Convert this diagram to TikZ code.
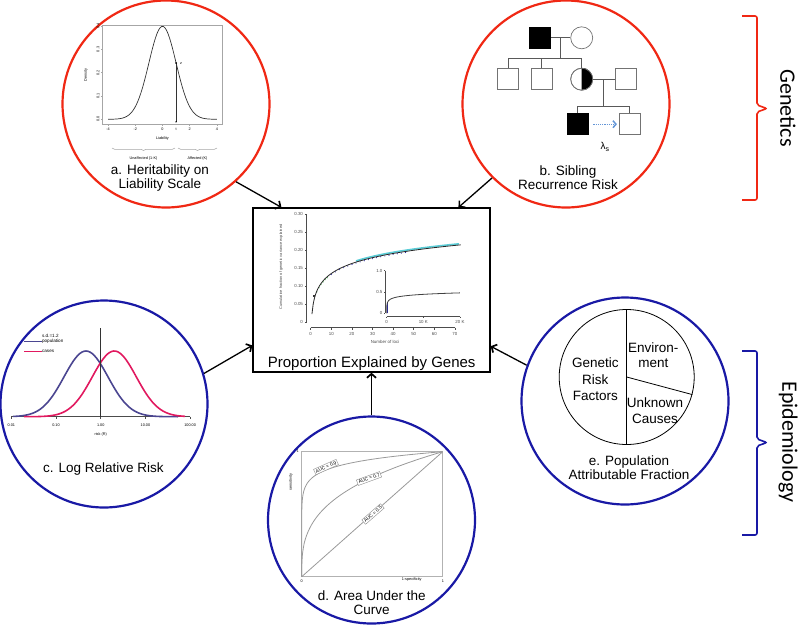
\documentclass[tikz,border=0pt]{standalone}
\usepackage{fontspec}
\setmainfont{Liberation Sans}
\newfontfamily\sidefont{Carlito}
\usetikzlibrary{positioning,arrows.meta,calc,decorations.pathreplacing}
\definecolor{genred}{RGB}{240,40,20}
\definecolor{epiblue}{RGB}{25,25,165}
\definecolor{popblue}{RGB}{75,70,145}
\definecolor{casered}{RGB}{225,25,95}
\definecolor{siblue}{RGB}{100,150,215}
\definecolor{fitcyan}{RGB}{90,205,215}
\definecolor{dotblue}{RGB}{40,40,160}
\definecolor{dotgreen}{RGB}{70,175,80}
\tikzset{
topic/.style={
  circle,
  draw=#1,
  line width=2.2pt,
  minimum size=207pt,
  inner sep=0pt
  },
capt/.style={
  font=\fontsize{13.5}{14}\selectfont,
  align=center,
  inner sep=0pt
  },
pielbl/.style={
  capt,
  font=\fontsize{13.5}{16.5}\selectfont
  },
tinylbl/.style={
  font=\fontsize{3.8}{4.2}\selectfont,
  inner sep=0.4pt
  },
ticklbl/.style={
  font=\fontsize{4.4}{5}\selectfont,
  text=black!70,
  inner sep=0.4pt
  },
plotframe/.style={draw=black!35,line width=0.5pt},
feed/.style={
  line width=1.3pt,
  -{Straight Barb[length=4pt,width=9pt,line width=1.7pt]}
  },
sqopen/.style={
  draw=black!55,
  line width=0.7pt,
  minimum size=21pt,
  inner sep=0pt
  },
sqfull/.style={sqopen,draw=black,fill=black},
circopen/.style={sqopen,circle,minimum size=22pt},
rocbox/.style={font=\fontsize{4.8}{5}\selectfont,draw=black!45,fill=white,inner sep=1.2pt},
pedline/.style={draw=black!65,line width=0.7pt}
}

\begin{document}
\begin{tikzpicture}[x=1pt,y=-1pt,>=latex]
\useasboundingbox (0,0) rectangle (800,625);

\node[topic=genred] (circa) at (166,104) {};
\node[topic=genred] (circb) at (566,104) {};
\node[topic=epiblue] (circc) at (104,404) {};
\node[topic=epiblue] (circd) at (371.5,520) {};
\node[topic=epiblue] (circe) at (625,401) {};

\node[draw,line width=1.3pt,minimum width=237pt,minimum height=164pt,inner sep=0pt] (main) at (371.5,290) {};

% a. liability scale
\draw[plotframe] (102.7,25) rectangle (222.7,124);
\foreach \v/\l in {0/0.0,1/0.1,2/0.2,3/0.3,4/0.4}{
  \draw[plotframe] (102.7,{119.3-23.3*\v}) -- ++(-2,0);
  \node[tinylbl,rotate=90] at (98,{119.3-23.3*\v}) {\l};
}
\foreach \t in {-4,-2,0,2,4}{
  \draw[plotframe] ({162.5+13.6*\t},124) -- ++(0,2);
  \node[tinylbl] at ({162.5+13.6*\t},129.5) {\t};
}
\node[tinylbl,rotate=90] (dens) at (86,75) {Density};
\node[tinylbl] (liab) at (162.5,138.5) {Liability};
\draw[black!80,line width=0.7pt] plot[domain=-4:4,samples=70] ({162.5+13.6*\x},{119.3-93*exp(-0.5*(\x)*(\x))});
\coordinate (thtop) at (176.1,62.9);
\coordinate (thbot) at (176.1,121.8);
\draw[black!80,line width=0.6pt] (thbot) -- (thtop);
\fill (thtop) circle[radius=1pt];
\fill (thbot) circle[radius=0.8pt];
\node[tinylbl] (zlbl) at (181,63) {z};
\node[tinylbl] (tlbl) at (176.1,129.5) {t};
\draw[plotframe,decorate,decoration={brace,mirror,amplitude=2.5pt}] (112,148) -- (175,148);
\draw[plotframe,decorate,decoration={brace,mirror,amplitude=2.5pt}] (178,148) -- (217,148);
\node[tinylbl] (unaff) at (143.5,158.5) {Unaffected (1-K)};
\node[tinylbl] (aff) at (197.5,158.5) {Affected (K)};
\node[capt] (capa) at (160,178.5) {a. Heritability on\\Liability Scale};

% b. pedigree
\node[sqfull] (dad) at (540,37.8) {};
\node[circopen] (mum) at (581.7,37.8) {};
\draw[pedline] (dad.east) -- (mum.west);
\coordinate (mar1) at (560.8,37.8);
\coordinate (sib1top) at (508.3,58);
\coordinate (sib2top) at (541.8,58);
\coordinate (mom2top) at (581.7,58);
\node[sqopen] (sib1) at (508.3,79.2) {};
\node[sqopen] (sib2) at (541.8,79.2) {};
\node[circopen] (mom2) at (581.7,79.2) {};
\fill (mom2.north) arc[start angle=90,end angle=-90,radius=11pt];
\node[circopen] at (mom2) {};
\node[sqopen] (spouse) at (626.2,79.2) {};
\draw[pedline] (mar1) -- (mar1|-sib1top);
\draw[pedline] (sib1top) -- (mom2top);
\draw[pedline] (sib1top) -- (sib1.north);
\draw[pedline] (sib2top) -- (sib2.north);
\draw[pedline] (mom2top) -- (mom2.north);
\draw[pedline] (mom2.east) -- (spouse.west);
\coordinate (mar2) at (603.5,79.2);
\coordinate (probtop) at (577.5,106);
\coordinate (sibrtop) at (629.8,106);
\node[sqfull] (prob) at (577.5,124.2) {};
\node[sqopen] (sibr) at (629.8,124.2) {};
\draw[pedline] (mar2) -- (mar2|-probtop);
\draw[pedline] (probtop) -- (sibrtop);
\draw[pedline] (probtop) -- (prob.north);
\draw[pedline] (sibrtop) -- (sibr.north);
\draw[siblue,line width=1.2pt,densely dotted,shorten <=5pt,shorten >=2pt,
  -{Straight Barb[length=3pt,width=7pt,line width=1.5pt]}] (prob) -- (sibr);
\node[font=\fontsize{10}{12}\selectfont,inner sep=0pt] (lam) at (605,147) {λ\textsubscript{s}};
\node[capt] (capb) at (568,177.5) {b. Sibling\\Recurrence Risk};

% c. log relative risk
\draw[black!70,line width=0.6pt] (11.3,416.7) -- (190.1,416.7);
\foreach \k/\l in {-2/0.01,-1/0.10,0/1.00,1/10.00,2/100.00}{
  \draw[black!70,line width=0.5pt] ({100.7+44.7*\k},416.7) -- ++(0,2);
  \node[tinylbl] at ({100.7+44.7*\k},425) {\l};
}
\node[tinylbl] (risk) at (100.7,434.3) {risk (R)};
\draw[popblue,line width=1.6pt] plot[domain=13:178,samples=80] (\x,{416.7-65.7*exp(-0.5*((\x-86)/22)^2)});
\draw[casered,line width=1.6pt] plot[domain=24:185,samples=80] (\x,{416.7-65.7*exp(-0.5*((\x-114.3)/22)^2)});
\draw[black!80,line width=0.7pt] (100.7,328) -- (100.7,416.7);
\draw[popblue,line width=1.4pt] (24,341.7) -- (41.5,341.7);
\draw[casered,line width=1.4pt] (24,351.7) -- (41.5,351.7);
\node[tinylbl,anchor=west,font=\fontsize{4.6}{5}\selectfont] (sdlbl) at (41.5,336) {s.d.=1.2};
\node[tinylbl,anchor=west,font=\fontsize{4.6}{5}\selectfont] (poplbl) at (41.5,341.7) {population};
\node[tinylbl,anchor=west,font=\fontsize{4.6}{5}\selectfont] (caslbl) at (41.5,351.7) {cases};
\node[capt] (capc) at (103.3,469) {c. Log Relative Risk};

% d. area under the curve
\draw[draw=black!30,line width=0.7pt] (301.7,451.7) rectangle (442.7,576.7);
\draw[black!40,line width=0.8pt] (301.7,576.7) -- (442.7,451.7);
\draw[black!40,line width=0.8pt] (301.7,576.7) -- plot[domain=0.03:1,samples=80] ({301.7+141*(\x)^4},{576.7-125*(\x)^(0.36)});
\draw[black!40,line width=0.8pt] (301.7,576.7) -- plot[domain=0.02:1,samples=80] ({301.7+141*(\x)^2},{576.7-125*(\x)^(0.66)});
\node[rocbox,rotate=24] (auc9) at (326,467) {AUC = 0.9};
\node[rocbox,rotate=20] (auc7) at (369,478.5) {AUC = 0.7};
\node[rocbox,rotate=41] (auc5) at (373,514) {AUC = 0.5};
\node[tinylbl] (one1) at (297.7,451) {1};
\node[tinylbl,rotate=90] (sens) at (291,482) {sensitivity};
\node[tinylbl] (zero) at (301.7,581.5) {0};
\node[tinylbl] (one2) at (443,581.5) {1};
\node[tinylbl] (spec) at (411.7,579.3) {1-specificity};
\node[capt] (capd) at (371.7,602.5) {d. Area Under the\\Curve};

% e. attributable fraction
\node[circle,draw,line width=0.8pt,minimum size=135pt,inner sep=0pt] (pie) at (626.7,377) {};
\draw[line width=0.8pt] (pie.north) -- (pie.south);
\draw[line width=0.8pt] (pie.center) -- (pie.-15.5);
\node[pielbl] (gen) at (595.3,379.3) {Genetic\\Risk\\Factors};
\node[pielbl,font=\fontsize{13.5}{15.4}\selectfont] (env) at (653.3,355) {Environ-\\ment};
\node[pielbl,font=\fontsize{13.5}{15.4}\selectfont] (unk) at (655,410.5) {Unknown\\Causes};
\node[capt] (cape) at (629,467.3) {e. Population\\Attributable Fraction};

% central plot
\draw[black!70,line width=0.5pt] (306.7,214) -- (306.7,322);
\foreach \k/\l in {0/0,1/0.05,2/0.10,3/0.15,4/0.20,5/0.25,6/0.30}{
  \draw[black!70,line width=0.5pt] (306.7,{322-18*\k}) -- ++(-2,0);
  \node[ticklbl,anchor=east] at (303.5,{322-18*\k}) {\l};
}
\draw[black!70,line width=0.5pt] (310.7,327.7) -- (454.9,327.7);
\foreach \n in {0,10,...,70}{
  \draw[black!70,line width=0.5pt] ({310.7+2.06*\n},327.7) -- ++(0,2);
  \node[ticklbl] at ({310.7+2.06*\n},333.5) {\n};
}
\node[ticklbl] (loci) at (385,341.7) {Number of loci};
\node[ticklbl,rotate=90,font=\fontsize{3.9}{4.2}\selectfont] (cumfrac) at (281,267) {Cumulative fraction of genetic variance explained};
\draw[fitcyan,line width=1.6pt] plot[domain=22:72,samples=30] ({310.7+2.06*\x},{322-360*(0.0424+0.0401*ln(\x))-1.2});
\foreach \n in {3,4,...,8}
  \fill[dotgreen] ({310.7+2.06*\n},{322-360*(0.0424+0.0401*ln(\n))+1}) circle[radius=0.7pt];
\foreach \n in {10,12,...,46}
  \fill[dotblue] ({310.7+2.06*\n},{322-360*(0.0424+0.0401*ln(\n))+1}) circle[radius=0.6pt];
\draw[black!85,line width=0.8pt] plot[domain=0.6:72.8,samples=120] ({310.7+2.06*\x},{322-360*(0.0424+0.0401*ln(\x))});
\fill[black!80] (313,295) rectangle ++(2,2);
% inset
\draw[black!70,line width=0.5pt] (385,270.7) -- (385,313.3);
\foreach \y/\l in {270.7/1.0,292/0.5,313.3/0}{
  \draw[black!70,line width=0.5pt] (385,\y) -- ++(-1.5,0);
  \node[ticklbl,anchor=east] at (383,\y) {\l};
}
\draw[black!70,line width=0.5pt] (386.7,316.7) -- (460,316.7);
\foreach \x/\l in {386.7/0,423.3/10 K,460/20 K}{
  \draw[black!70,line width=0.5pt] (\x,316.7) -- ++(0,1.5);
  \node[ticklbl] at (\x,321.7) {\l};
}
\draw[dotblue,line width=0.8pt] (386.9,313.3) -- (386.9,303);
\draw[black!75,line width=0.8pt] (386.7,313.3) -- plot[domain=0.08:1,samples=60] ({386.7+73.3*(\x)^3},{313.3-42.6*(0.33+0.05*(ln(20)+3*ln(\x)))});
\node[font=\fontsize{15}{17}\selectfont,inner sep=0pt] (maincap) at (371.7,363.3) {Proportion Explained by Genes};

% arrows
\draw[feed] (circa.-48) -- ($(main.north west)!0.122!(main.north east)$);
\draw[feed] (circb.-135) -- ($(main.north west)!0.865!(main.north east)$);
\draw[feed] (circc.17) -- ($(main.north west)!0.835!(main.south west)$);
\draw[feed] (circe.160) -- ($(main.north east)!0.84!(main.south east)$);
\draw[feed] (circd.north) -- (main.south);

% brackets
\draw[genred,line width=1.6pt,rounded corners=2pt] (742,16) -- (757,16) -- (757,105) -- (767,108.5) -- (757,112) -- (757,200) -- (742,200);
\draw[epiblue,line width=1.6pt,rounded corners=2pt] (742,351) -- (757,351) -- (757,439) -- (767,442.5) -- (757,446) -- (757,535) -- (742,535);
\node[rotate=-90,font=\sidefont\fontsize{22}{24}\selectfont] (genetics) at (788,108) {Genetics};
\node[rotate=-90,font=\sidefont\fontsize{22}{24}\selectfont] (epi) at (788,442) {Epidemiology};
\end{tikzpicture}
\end{document}
